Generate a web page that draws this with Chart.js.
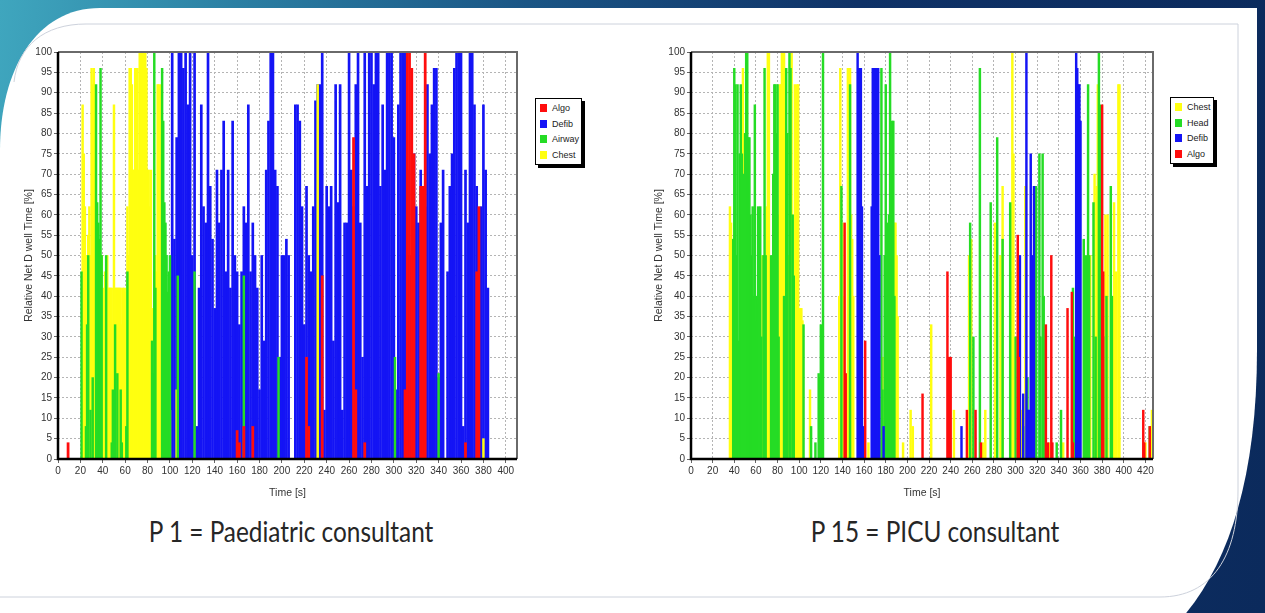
<!DOCTYPE html>
<html>
<head>
<meta charset="utf-8">
<script src="https://cdn.jsdelivr.net/npm/chart.js@4.4.0/dist/chart.umd.min.js"></script>
<style>
html, body { margin: 0; padding: 0; }
body {
  width: 1265px; height: 613px; overflow: hidden; position: relative;
  background: linear-gradient(95deg, #3fa6be 0%, #2b7fa3 18%, #1a5585 40%, #0f3267 65%, #0b2a5c 100%);
  font-family: "Liberation Sans", Arial, sans-serif;
}
#deco { position: absolute; left: 0; top: 0; }
canvas { position: absolute; }
#c1 { left: 20px; top: 40px; }
#c2 { left: 650px; top: 40px; }
.legend {
  position: absolute; background: #fff; border: 1px solid #000;
  box-shadow: 3px 3px 0 #000; font-size: 9px; color: #222; padding: 2px 0 1px 0;
}
.legend div { height: 15.5px; line-height: 15.5px; white-space: nowrap; }
.legend span { display: inline-block; width: 7px; height: 8px; margin: 0 5px 0 4px; vertical-align: -1px; }
.caption {
  position: absolute; top: 513px; width: 500px; text-align: center;
  font-family: Lato, "Open Sans", sans-serif; font-weight: 400; font-size: 29px; color: #262626;
  transform: scaleX(0.84); transform-origin: center;
}
</style>
</head>
<body>
<svg id="deco" width="1265" height="613">
  <path d="M0 150 C0 70 36 8 100 8 L1257 8 L1257 350 C1257 470 1232 560 1182 618 L0 618 Z" fill="#fff"/>
  <path d="M14 82 C18 46 44 24 86 24 L1238 24 L1238 490 C1238 556 1212 597 1160 597 L0 597" fill="none" stroke="#cdd2dc" stroke-width="1"/>
</svg>
<canvas id="c1" width="510" height="462"></canvas>
<canvas id="c2" width="510" height="462"></canvas>
<div class="legend" id="lg1" style="left:535px;top:98px;width:45px;"></div>
<div class="legend" id="lg2" style="left:1170px;top:97px;width:42px;"></div>
<div class="caption" style="left:41px;">P 1 = Paediatric consultant</div>
<div class="caption" style="left:685px;">P 15 = PICU consultant</div>

<script>
// ---- P1 (Paediatric consultant), [time s, % dwell]
const p1Algo = [[9,4],[160,7],[162,4],[166,8],[174,8],[222,25],[224,8],[236,45],[264,79],[266,17],[274,4],
  [310,17],[312,100],[314,100],[316,96],[318,75],[324,67],[326,67],[328,100],[364,4],[374,46],[376,62]];
const p1Defib = [[102,100],[104,54],[106,79],[108,100],[110,100],[112,96],[114,100],[116,87],[118,100],[120,50],
  [122,100],[124,8],[126,42],[128,87],[130,62],[132,58],[134,100],[136,67],[138,54],[140,37],[142,71],[144,58],
  [146,71],[148,83],[150,46],[152,71],[154,42],[156,83],[158,50],[160,46],[162,33],[164,46],[166,62],[168,58],
  [170,87],[172,46],[174,58],[176,50],[178,42],[180,17],[182,50],[184,29],[186,71],[188,83],[190,100],[192,100],
  [194,71],[196,67],[198,25],[200,50],[202,50],[204,54],[206,50],[212,87],[214,87],[216,83],[218,62],[220,33],
  [222,67],[224,50],[226,46],[228,62],[230,88],[232,92],[234,92],[236,100],[238,12],[240,67],[242,62],[244,67],
  [246,29],[248,92],[250,63],[252,92],[254,12],[256,58],[258,58],[260,100],[262,71],[264,62],[266,92],[268,100],
  [270,58],[272,25],[274,100],[276,67],[278,100],[280,100],[282,92],[284,100],[286,100],[288,67],[290,87],[292,71],
  [294,100],[296,100],[298,100],[300,79],[302,17],[304,87],[306,100],[308,100],[310,100],[312,71],[314,50],[316,46],
  [318,75],[320,62],[322,58],[324,71],[326,50],[328,62],[330,92],[332,75],[334,87],[336,96],[338,96],[340,20],
  [342,58],[344,71],[348,46],[350,67],[352,75],[354,96],[356,100],[358,100],[360,100],[362,8],[364,71],[366,58],
  [368,100],[370,100],[372,87],[374,67],[376,54],[378,62],[380,87],[382,71],[384,42]];
const p1Airway = [[21,46],[25,8],[26,33],[27,50],[29,12],[31,20],[34,92],[35,63],[36,58],[37,54],[38,96],[39,50],
  [43,50],[48,4],[49,17],[51,33],[53,21],[56,17],[57,4],[61,8],[62,46],[84,29],[85,21],[86,100],[87,42],[93,96],
  [94,83],[95,63],[96,58],[97,50],[98,41],[99,46],[100,50],[107,45],[122,46],[166,45],[197,25],[301,25],[340,21]];
const p1Chest = [[22,87],[23,75],[24,62],[25,50],[26,46],[27,55],[28,62],[29,50],[30,96],[31,92],[32,96],[33,62],
  [34,50],[35,50],[36,50],[37,50],[38,50],[39,50],[40,25],[41,42],[42,46],[43,20],[44,50],[45,42],[46,42],[47,42],
  [48,42],[49,25],[50,87],[51,42],[52,42],[53,42],[54,42],[55,42],[56,42],[57,33],[58,42],[59,42],[60,41],[61,42],
  [62,62],[63,50],[64,96],[65,96],[66,92],[67,71],[68,71],[69,96],[70,96],[71,96],[72,71],[73,100],[74,100],[75,96],
  [76,100],[77,100],[78,100],[79,96],[80,71],[81,71],[82,62],[83,71],[84,37],[85,34],[86,46],[87,50],[88,46],[89,92],
  [90,92],[91,62],[92,92],[93,46],[94,50],[95,50],[96,50],[97,40],[98,30],[99,20],[100,12],[106,17],[107,12],[232,92],[380,5]];

// ---- P15 (PICU consultant)
const p15Chest = [[36,62],[37,58],[38,54],[48,96],[49,50],[57,17],[63,46],[66,50],[67,40],[68,34],[69,40],[70,62],
  [71,100],[72,100],[73,34],[74,34],[75,34],[76,36],[77,34],[78,34],[79,40],[80,34],[81,60],[82,92],[83,92],[84,100],
  [85,100],[86,100],[87,75],[88,34],[89,34],[90,50],[91,40],[92,34],[93,100],[94,34],[95,25],[96,92],[97,40],[98,92],
  [99,92],[100,37],[101,37],[102,37],[103,34],[110,17],[137,40],[138,96],[139,50],[140,58],[141,40],[145,96],[146,50],
  [147,96],[148,60],[149,54],[150,40],[164,4],[177,25],[181,40],[183,30],[186,58],[188,58],[189,58],[190,50],[191,35],
  [196,4],[203,12],[205,8],[222,33],[243,12],[257,50],[259,54],[270,4],[272,12],[281,58],[286,50],[288,67],[296,46],
  [297,100],[298,75],[306,12],[309,67],[316,8],[331,4],[344,4],[352,12],[369,50],[373,70],[375,67],[376,92],[383,60],
  [385,60],[391,63],[393,46],[395,92],[396,92],[420,4],[426,12]];
const p15Head = [[39,54],[40,96],[41,92],[42,50],[43,92],[44,29],[45,75],[46,92],[47,75],[49,70],[50,80],[51,100],
  [52,100],[53,79],[54,79],[55,60],[56,50],[57,62],[58,40],[59,87],[60,40],[61,34],[62,62],[63,38],[64,62],[65,30],
  [67,50],[68,96],[69,50],[74,50],[76,70],[77,92],[78,92],[79,80],[80,92],[81,30],[86,40],[88,96],[89,80],[91,100],
  [92,96],[94,60],[95,45],[104,33],[111,8],[115,4],[118,21],[119,20],[120,33],[122,100],[139,67],[147,92],[176,96],
  [177,17],[179,50],[180,92],[181,58],[182,35],[183,60],[184,100],[185,70],[186,83],[187,83],[188,40],[258,58],[261,30],
  [267,96],[277,63],[283,79],[288,54],[295,63],[300,30],[307,8],[311,20],[317,50],[319,67],[322,75],[323,30],[325,75],
  [326,40],[338,4],[342,12],[353,42],[354,30],[363,54],[364,40],[365,50],[367,92],[368,50],[372,63],[374,30],[377,100],
  [378,87],[381,30],[384,40],[388,67],[389,40],[424,8]];
const p15Defib = [[154,100],[155,96],[156,96],[157,96],[158,62],[159,8],[167,62],[168,96],[169,96],[170,75],[171,96],
  [172,96],[173,96],[174,50],[178,8],[250,8],[304,50],[307,16],[310,100],[311,12],[312,12],[313,12],[314,75],[315,50],
  [316,46],[317,67],[356,100],[357,96],[358,92],[359,92],[360,83]];
const p15Algo = [[142,58],[143,21],[161,29],[214,16],[237,46],[238,25],[239,25],[240,25],[255,12],[263,12],[268,4],
  [302,55],[303,25],[328,33],[330,4],[333,50],[334,4],[348,37],[352,41],[353,4],[380,87],[381,46],[418,12],[419,4],[424,8]];

const RED = '#ff0d0d', BLUE = '#1414f5', GREEN = '#25dc25', YELLOW = '#ffff10';
const tickFont = { family: '"Liberation Sans Narrow", "Liberation Sans", Arial', size: 10 };
const titleFont = { family: '"Liberation Sans", Arial', size: 10.5 };

const plotFrame = {
  id: 'plotFrame',
  afterDraw(chart) {
    const ctx = chart.ctx, a = chart.chartArea;
    ctx.save();
    ctx.strokeStyle = '#6a6a6a'; ctx.lineWidth = 2;
    ctx.beginPath(); ctx.moveTo(a.left, a.top); ctx.lineTo(a.right, a.top); ctx.lineTo(a.right, a.bottom); ctx.stroke();
    ctx.strokeStyle = '#000'; ctx.lineWidth = 2.5;
    ctx.beginPath(); ctx.moveTo(a.left, a.top); ctx.lineTo(a.left, a.bottom); ctx.lineTo(a.right, a.bottom); ctx.stroke();
    ctx.restore();
  }
};

function toSet(label, pts, color, width, order) {
  return {
    label: label,
    data: pts.map(p => ({ x: p[0], y: p[1] })),
    backgroundColor: color,
    borderWidth: 0,
    barThickness: width,
    grouped: false,
    order: order
  };
}

function drawChart(id, sets, xMax, yWidth, padRight) {
  return new Chart(document.getElementById(id), {
    type: 'bar',
    data: { datasets: sets },
    options: {
      responsive: false,
      animation: false,
      plugins: { legend: { display: false }, tooltip: { enabled: false } },
      layout: { padding: { top: 12, right: padRight, left: 0, bottom: 0 } },
      scales: {
        x: {
          type: 'linear', min: 0, max: xMax, offset: false,
          afterFit: s => { s.height = 43; },
          ticks: { stepSize: 20, includeBounds: false, autoSkip: false, maxRotation: 0, color: '#333', font: tickFont, padding: 2 },
          grid: { offset: false, color: '#b4b4b4', lineWidth: 1, tickLength: 4, tickColor: '#666' },
          border: { display: false, dash: [2, 2] },
          title: { display: true, text: 'Time [s]', color: '#333', font: titleFont, padding: { top: 0, bottom: 3 } }
        },
        y: {
          min: 0, max: 100,
          afterFit: s => { s.width = yWidth; },
          ticks: { stepSize: 5, autoSkip: false, color: '#333', font: tickFont, padding: 2 },
          grid: { color: '#b4b4b4', lineWidth: 1, tickLength: 4, tickColor: '#666' },
          border: { display: false, dash: [2, 2] },
          title: { display: true, text: 'Relative Net D well Time [%]', color: '#333', font: titleFont, padding: { top: 3, bottom: 0 } }
        }
      }
    },
    plugins: [plotFrame]
  });
}

const sets1 = [
  toSet('Algo', p1Algo, RED, 2.1, 0),
  toSet('Defib', p1Defib, BLUE, 2.0, 3),
  toSet('Airway', p1Airway, GREEN, 1.8, 1),
  toSet('Chest', p1Chest, YELLOW, 1.8, 2)
];
const sets2 = [
  toSet('Chest', p15Chest, YELLOW, 1.8, 3),
  toSet('Head', p15Head, GREEN, 1.8, 2),
  toSet('Defib', p15Defib, BLUE, 1.8, 1),
  toSet('Algo', p15Algo, RED, 1.8, 0)
];

drawChart('c1', sets1, 410, 38, 13);
drawChart('c2', sets2, 427, 41, 7);

function fillLegend(id, sets) {
  const box = document.getElementById(id);
  sets.forEach(s => {
    const row = document.createElement('div');
    const sw = document.createElement('span');
    sw.style.background = s.backgroundColor;
    row.appendChild(sw);
    row.appendChild(document.createTextNode(s.label));
    box.appendChild(row);
  });
}
fillLegend('lg1', sets1);
fillLegend('lg2', sets2);
</script>
</body>
</html>
